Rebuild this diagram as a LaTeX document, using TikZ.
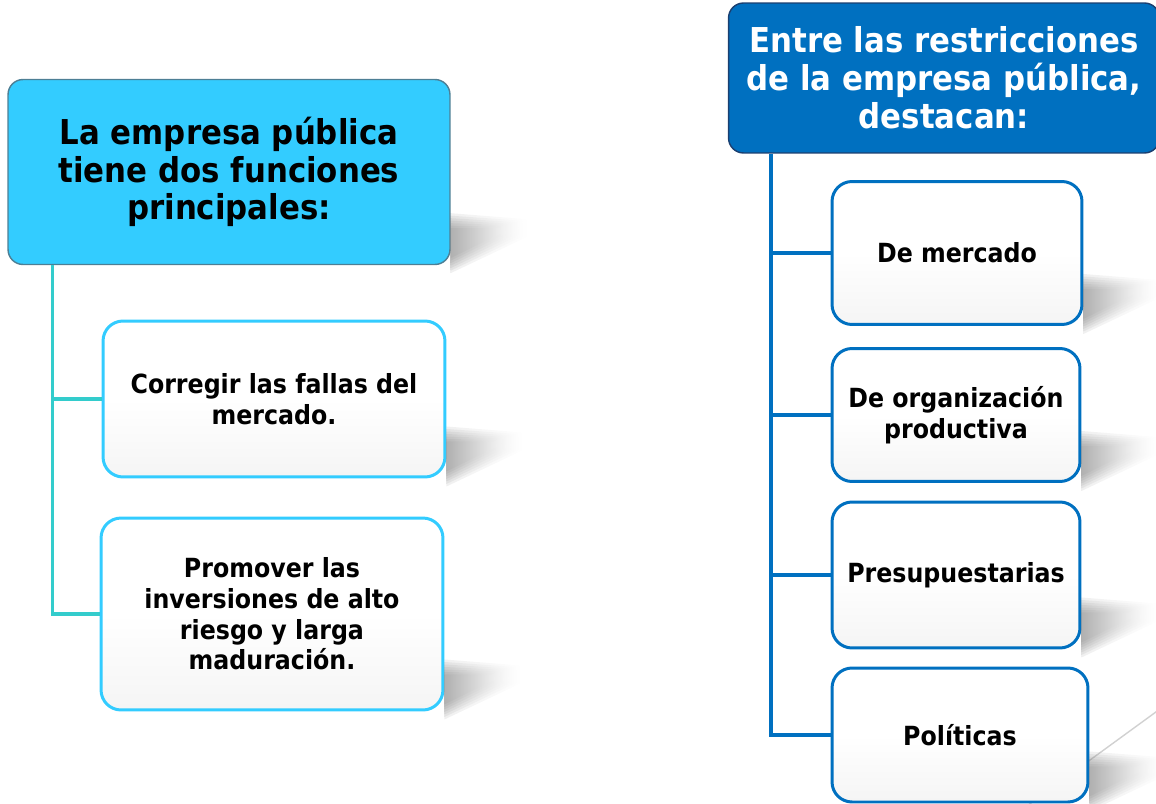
\documentclass[tikz,border=0pt]{standalone}
\usepackage{xcolor}
\usepackage{fontspec}
\setmainfont{DejaVu Sans Condensed}
\usepackage{tikz}
\usetikzlibrary{positioning, calc}

\definecolor{headcyan}{HTML}{33CCFF}
\definecolor{headblue}{HTML}{0070C0}
\definecolor{linecyan}{HTML}{33CCCC}
\definecolor{edgegray}{HTML}{4D7F95}
\definecolor{edgenavy}{HTML}{1B3F70}

% soft perspective shadow at the lower right of a box
\newcommand{\boxshade}[1]{%
    \foreach \i in {0,...,6}
        \shade[left color=black!55, right color=white, opacity=0.11]
            ($(#1.south east)+(0,-52+2.5*\i)$) -- ($(#1.south east)+(76-4.5*\i,-46+1.5*\i)$) --
            ($(#1.south east)+(78-4.5*\i,-29-0.5*\i)$) -- ($(#1.south east)+(0,8-2.5*\i)$) -- cycle;
}

\begin{document}
\begin{tikzpicture}[
        x=0.02cm, y=-0.02cm,
        head/.style={rectangle, rounded corners=0.3cm, draw, line width=0.8pt, align=center, font=\bfseries\fontsize{19.5}{21.5}\selectfont},
        item/.style={rectangle, rounded corners=0.4cm, line width=1.7pt, align=center, top color=white, bottom color=black!4, middle color=white, font=\bfseries\fontsize{15}{17.5}\selectfont},
        lline/.style={draw=linecyan, line width=2pt},
        rline/.style={draw=headblue, line width=2.2pt}
    ]
        \useasboundingbox (0,0) rectangle (1156,804);

        % Background stroke
        \draw[black!18, line width=0.8pt] (1160,709) -- (1020,811);

        % Left column
        \node[head, fill=headcyan, draw=edgegray, minimum width=8.84cm, minimum height=3.7cm] (funcs) at (229,172) {La empresa pública\\tiene dos funciones\\principales:};
        \node[item, draw=headcyan, minimum width=6.84cm, minimum height=3.12cm] (fallas) at (274,399) {Corregir las fallas del\\mercado.};
        \node[item, draw=headcyan, minimum width=6.84cm, minimum height=3.84cm] (riesgo) at (272,614) {Promover las\\inversiones de alto\\riesgo y larga\\maduración.};

        % Right column
        \node[head, fill=headblue, draw=edgenavy, text=white, minimum width=8.62cm, minimum height=3cm] (restr) at (944,78) {Entre las restricciones\\de la empresa pública,\\destacan:};
        \node[item, draw=headblue, minimum width=5cm, minimum height=2.86cm] (mercado) at (957,253) {De mercado};
        \node[item, draw=headblue, minimum width=4.96cm, minimum height=2.66cm] (organiz) at (956,415) {De organización\\productiva};
        \node[item, draw=headblue, minimum width=4.96cm, minimum height=2.92cm] (presup) at (956,575) {Presupuestarias};
        \node[item, draw=headblue, minimum width=5.12cm, minimum height=2.68cm] (polit) at (960,735) {Políticas};

        % Shadows
        \foreach \n in {funcs, fallas, riesgo, mercado, organiz, presup, polit}
            {\boxshade{\n}}

        % Connectors
        \coordinate (ltop) at ([xshift=0.9cm]funcs.south west);
        \draw[lline] (ltop) |- (riesgo.west);
        \draw[lline] (fallas.west) -- (fallas.west -| ltop);

        \coordinate (rtop) at ([xshift=0.86cm]restr.south west);
        \draw[rline] (rtop) |- (polit.west);
        \foreach \n in {mercado, organiz, presup}
            \draw[rline] (\n.west) -- (\n.west -| rtop);

    \end{tikzpicture}
\end{document}
